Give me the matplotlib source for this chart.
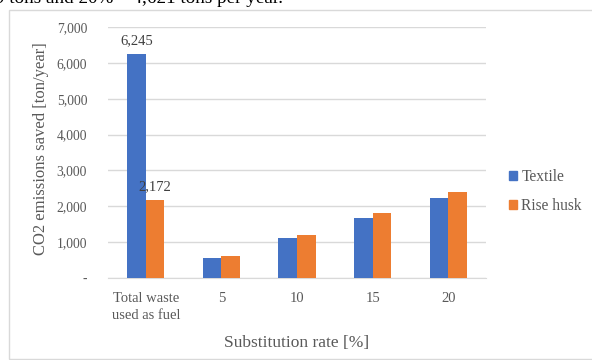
import matplotlib
matplotlib.use("Agg")
from matplotlib import pyplot as plt
from matplotlib.patches import Patch, Rectangle
import numpy as np

plt.rcParams['font.family'] = ['Liberation Serif', 'DejaVu Serif']

categories = ["Total waste\nused as fuel", "5", "10", "15", "20"]
textile = [6245, 555, 1110, 1666, 2221]
rice_husk = [2172, 600, 1200, 1800, 2400]
y_ticks = [0, 1000, 2000, 3000, 4000, 5000, 6000, 7000]

BLUE = "#4472C4"
ORANGE = "#ED7D31"
GREY_TEXT = "#595959"
GRID = "#d9d9d9"


def main():
    fig = plt.figure(figsize=(5.92, 3.6), dpi=100)

    # surrounding text line and chart frame
    fig.text(-0.008, 1 - 3.0 / 360, "9 tons and 20% \u2013 4,621 tons per year.",
             fontsize=13.8, color="black", va="baseline", ha="left")
    fig.patches.append(Rectangle((9 / 592, 1 / 360), 1.0, 349 / 360,
                                 transform=fig.transFigure, fill=False,
                                 edgecolor=GRID, linewidth=1.0))

    ax = fig.add_axes([108 / 592, 1 - 278 / 360, 378 / 592, 251 / 360])
    x = np.arange(len(categories))
    w = 0.245
    ax.bar(x - w / 2, textile, w, color=BLUE, zorder=3)
    ax.bar(x + w / 2, rice_husk, w, color=ORANGE, zorder=3)

    # value labels on the first group only
    ax.text(x[0] - w / 2, textile[0] + 200, f"{textile[0]:,}", ha="center",
            va="bottom", fontsize=10.5, color="#404040", zorder=4)
    ax.text(x[0] + w / 2, rice_husk[0] + 200, f"{rice_husk[0]:,}", ha="center",
            va="bottom", fontsize=10.5, color="#404040", zorder=4)

    ax.set_xlim(-0.5, len(categories) - 0.5)
    ax.set_ylim(0, 7000)
    ax.set_yticks(y_ticks)
    ax.set_yticklabels(["-" if v == 0 else f"{v:,}" for v in y_ticks])
    ax.set_xticks(x)
    ax.set_xticklabels(categories, linespacing=1.45)
    ax.tick_params(length=0, colors=GREY_TEXT)
    ax.tick_params(axis="y", pad=15, labelsize=9.8)
    ax.tick_params(axis="x", pad=10, labelsize=10.5)
    ax.grid(axis="y", color=GRID, linewidth=1.0, zorder=0)
    for side in ["top", "right", "left"]:
        ax.spines[side].set_visible(False)
    ax.spines["bottom"].set_color(GRID)

    ax.set_ylabel("CO2 emissions saved [ton/year]", fontsize=12,
                  color=GREY_TEXT)
    ax.yaxis.set_label_coords(-0.155, 0.515)
    ax.set_xlabel("Substitution rate [%]", fontsize=12.5, color=GREY_TEXT,
                  labelpad=9)

    handles = [Patch(color=BLUE, label="Textile"),
               Patch(color=ORANGE, label="Rise husk")]
    fig.legend(handles=handles, loc="upper left",
               bbox_to_anchor=(495 / 592, 1 - 155 / 360), frameon=False,
               handlelength=0.5, handleheight=0.5, handletextpad=0.3,
               labelspacing=0.85, fontsize=11.2, labelcolor=GREY_TEXT)

    fig.savefig("out.png", dpi=100)


if __name__ == '__main__':
    main()
